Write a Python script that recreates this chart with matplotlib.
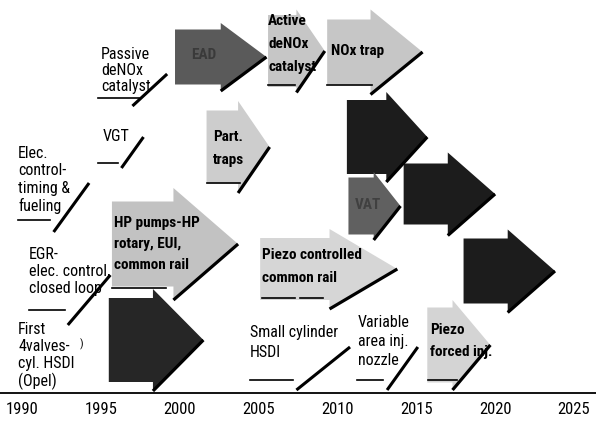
import matplotlib
matplotlib.use("Agg")
import matplotlib.pyplot as plt
from matplotlib.patches import Polygon

# timeline arrows: start year, year where the head begins, tip year, level above the axis
arrow_names = ["EAD", "Active\ndeNOx\ncatalyst", "NOx trap", "", "VAT", "", "",
               "HP pumps-HP\nrotary, EUI,\ncommon rail", "", "Part.\ntraps",
               "Piezo controlled\ncommon rail", "Piezo\nforced inj."]
arrow_start = [1999.7, 2005.6, 2009.35, 2010.6, 2010.7, 2014.2, 2018.0, 1995.7, 1995.5, 2001.7, 2005.1, 2015.7]
arrow_base = [2002.6, 2007.4, 2012.1, 2013.1, 2012.3, 2017.0, 2020.8, 1999.6, 1998.3, 2003.7, 2009.5, 2017.3]
arrow_tip = [2005.5, 2009.2, 2015.4, 2015.7, 2014.0, 2020.0, 2023.8, 2003.7, 2001.5, 2005.7, 2013.8, 2019.7]
arrow_level = [33.6, 34.2, 34.1, 25.6, 18.7, 19.9, 12.2, 14.9, 5.3, 24.6, 12.4, 4.8]

# plain notes (no arrow)
note_names = ["Passive\ndeNOx\ncatalyst", "VGT", "Elec.\ncontrol-\ntiming &\nfueling",
              "EGR-\nelec. control,\nclosed loop", "First\n4valves-\ncyl. HSDI\n(Opel)",
              "Small cylinder\nHSDI", "Variable\narea inj.\nnozzle"]
note_year = [1995.0, 1995.1, 1989.75, 1990.45, 1989.75, 2004.45, 2011.3]
note_level = [34.6, 26.4, 24.7, 14.6, 7.1, 6.8, 7.8]

# ramps drawn under notes: underline (from, to, level) and rising stroke
under_from = [1994.8, 1994.8, 1989.75, 1990.45, 2004.45, 2011.25, 2005.6, 2009.35, 2001.7, 1995.7, 2005.2, 2007.6, 2015.75]
under_to = [1997.4, 1996.1, 1991.8, 1992.7, 2007.2, 2012.9, 2007.3, 2012.2, 2003.8, 1999.1, 2007.3, 2009.1, 2017.6]
under_level = [29.5, 23.0, 17.3, 8.3, 1.3, 1.3, 30.8, 30.8, 21.0, 10.5, 9.5, 9.5, 1.3]
ramp_x0 = [1997.0, 1996.3, 1992.0, 1992.9, 2007.4, 2013.15]
ramp_y0 = [28.7, 22.5, 16.1, 6.8, 0.3, 0.3]
ramp_x1 = [1999.2, 1997.7, 1994.25, 1995.6, 2010.8, 2015.1]
ramp_y1 = [31.9, 25.6, 21.0, 11.8, 4.6, 4.6]

years = [1990, 1995, 2000, 2005, 2010, 2015, 2020, 2025]

# style
body_half = [2.75, 3.6, 3.25, 3.7, 2.85, 3.05, 3.25, 4.25, 4.2, 3.65, 3.1, 3.75]
head_half = [3.4, 4.15, 4.25, 4.5, 3.4, 4.15, 4.15, 5.6, 5.1, 4.6, 4.0, 4.5]
shade = ["#5a5a5a", "#c6c6c6", "#c6c6c6", "#1c1c1c", "#606060", "#1c1c1c", "#1c1c1c",
         "#c2c2c2", "#262626", "#cdcdcd", "#d6d6d6", "#d4d4d4"]
text_col = ["#3a3a3a", "black", "black", "white", "#404040", "white", "white",
            "black", "white", "black", "black", "black"]
note_spacing = [1.1, 1.1, 1.2, 1.15, 1.15, 1.4, 1.35]

font = ["Roboto Condensed", "Liberation Sans", "DejaVu Sans"]
bold_size = 11
note_size = 11.5

fig = plt.figure(figsize=(5.96, 4.25), dpi=100)
ax = fig.add_axes([0, 0, 1, 1])
ax.set_xlim(1988.6, 2026.4)
ax.set_ylim(-3.2, 39.3)
ax.axis("off")

for i in range(len(arrow_names)):
    x0, xb, xt, c = arrow_start[i], arrow_base[i], arrow_tip[i], arrow_level[i]
    b, h = body_half[i], head_half[i]
    pts = [(x0, c + b), (xb, c + b), (xb, c + h), (xt, c), (xb, c - h), (xb, c - b), (x0, c - b)]
    ax.add_patch(Polygon(pts, closed=True, facecolor=shade[i], edgecolor="none", zorder=2))
    ax.plot([xb, xt], [c - h, c], color="black", lw=2.3, solid_capstyle="butt", zorder=3)

# labels inside arrows
kw = dict(family=font, weight="bold", fontsize=bold_size, zorder=4)
ax.text(2000.7, 33.8, arrow_names[0], color=text_col[0], va="center", **kw)
ax.text(2005.6, 37.9, arrow_names[1], va="top", linespacing=1.8, **kw)
ax.text(2009.6, 34.2, arrow_names[2], va="center", **kw)
ax.text(2011.1, 18.8, arrow_names[4], color=text_col[4], va="center", **kw)
ax.text(1995.8, 17.7, arrow_names[7], va="top", linespacing=1.65, **kw)
ax.text(2002.1, 26.3, arrow_names[9], va="top", linespacing=1.85, **kw)
ax.text(2005.2, 14.5, arrow_names[10], va="top", linespacing=1.8, **kw)
ax.text(2015.9, 7.0, arrow_names[11], va="top", linespacing=1.75, **kw)

for i in range(len(note_names)):
    ax.text(note_year[i], note_level[i], note_names[i], family=font, fontsize=note_size,
            va="top", ha="left", linespacing=note_spacing[i], zorder=4)
ax.text(1993.65, 4.9, ")", family=font, fontsize=8, va="center", zorder=4)

for i in range(len(under_from)):
    ax.plot([under_from[i], under_to[i]], [under_level[i], under_level[i]],
            color="black", lw=1.2, zorder=4)
for i in range(len(ramp_x0)):
    ax.plot([ramp_x0[i], ramp_x1[i]], [ramp_y0[i], ramp_y1[i]],
            color="black", lw=2.2, solid_capstyle="butt", zorder=4)

# time axis
ax.axhline(0, color="black", lw=1.3, zorder=1)
for y in years:
    ax.text(y, -1.7, str(y), family=font, fontsize=12, ha="center", va="center")

fig.savefig("out.png", dpi=100)
